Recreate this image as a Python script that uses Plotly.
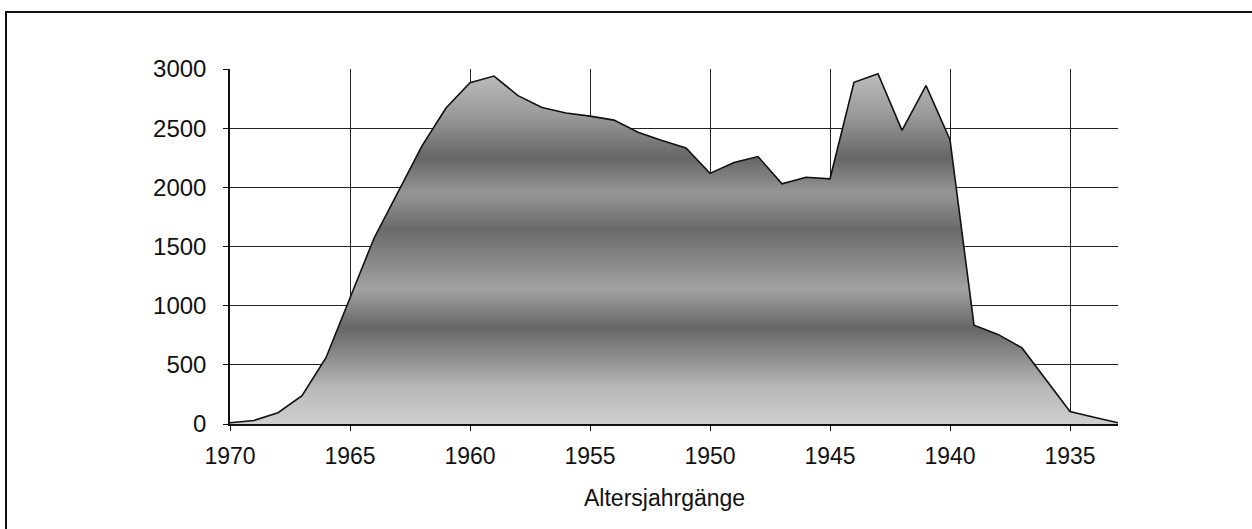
import plotly.graph_objects as go

years = list(range(1970, 1932, -1))
counts = [10, 30, 95, 240, 560, 1070, 1570, 1960, 2350, 2670,
          2885, 2940, 2775, 2675, 2628, 2602, 2568, 2465, 2395, 2332,
          2118, 2210, 2260, 2030, 2085, 2072, 2887, 2960, 2481, 2860,
          2402, 835, 757, 643, 372, 105, 57, 10]
x_ticks = [1970, 1965, 1960, 1955, 1950, 1945, 1940, 1935]
y_ticks = [0, 500, 1000, 1500, 2000, 2500, 3000]
x_title = "Altersjahrgänge"

FONT = "Arial, Liberation Sans, Helvetica, sans-serif"

fig = go.Figure()
fig.add_trace(go.Scatter(
    x=years, y=counts, mode="lines", fill="tozeroy",
    line=dict(color="#111111", width=1.6, shape="linear"),
    fillgradient=dict(
        type="vertical", start=0, stop=3000,
        colorscale=[
            [0.00, "#d0d0d0"],
            [0.10, "#b8b8b8"],
            [0.27, "#666666"],
            [0.38, "#a2a2a2"],
            [0.55, "#6a6a6a"],
            [0.65, "#969696"],
            [0.75, "#666666"],
            [0.87, "#9a9a9a"],
            [1.00, "#c0c0c0"],
        ],
    ),
    hoverinfo="x+y", showlegend=False,
))

# pixel helpers for the outer frame (plot area: x 230..1118, y 69..424)
L, R, T, B = 230, 1118, 69, 424
W, H = 1252, 529
def px(xp):
    return (xp - L) / (R - L)
def py(yp):
    return (B - yp) / (B - T)

fig.add_shape(type="path", xref="paper", yref="paper",
              path=f"M {px(6)} {py(H)} L {px(6)} {py(12)} L {px(W)} {py(12)}",
              line=dict(color="#111111", width=2))

fig.add_annotation(text=x_title, xref="paper", yref="paper",
                   x=px(664), y=py(498), xanchor="center", yanchor="middle",
                   showarrow=False, font=dict(family=FONT, size=23, color="#111111"))

fig.update_layout(
    width=W, height=H,
    margin=dict(l=L, r=W - R, t=T, b=H - B),
    paper_bgcolor="white", plot_bgcolor="white",
    font=dict(family=FONT, size=23, color="#111111"),
    xaxis=dict(
        range=[1970, 1933], tickvals=x_ticks, ticktext=[str(v) for v in x_ticks],
        showgrid=True, gridcolor="#222222", gridwidth=1,
        showline=True, linecolor="#111111", linewidth=1.5,
        ticks="outside", ticklen=5, tickcolor="#111111",
        ticklabelstandoff=6, zeroline=False,
        tickfont=dict(family=FONT, size=23, color="#111111"),
    ),
    yaxis=dict(
        range=[0, 3000], tickvals=y_ticks, ticktext=[str(v) for v in y_ticks],
        showgrid=True, gridcolor="#222222", gridwidth=1,
        showline=True, linecolor="#111111", linewidth=1.5,
        ticks="outside", ticklen=5, tickcolor="#111111",
        ticklabelstandoff=12, zeroline=False,
        tickfont=dict(family=FONT, size=24, color="#111111"),
    ),
)

fig.write_html("out.html", config={"displayModeBar": False},
               post_script="document.body.style.margin='0px';")
